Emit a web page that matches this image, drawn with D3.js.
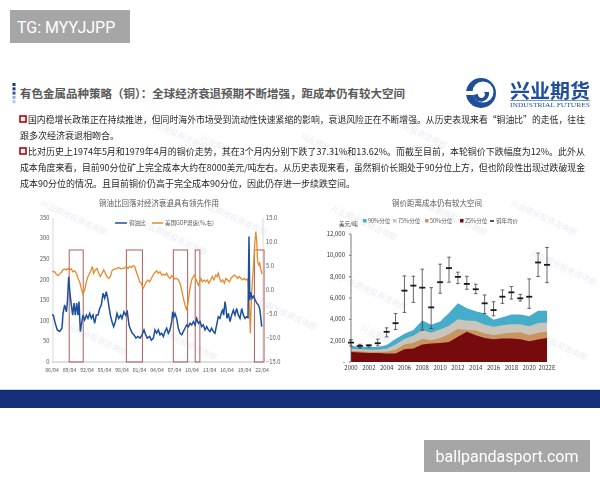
<!DOCTYPE html>
<html lang="zh">
<head>
<meta charset="UTF-8">
<title>有色金属品种策略（铜）</title>
<script src="https://d3js.org/d3.v7.min.js"></script>
<style>
  body { margin: 0; background: #fff; }
  svg { display: block; font-family: "Noto Sans CJK SC", "Noto Sans", sans-serif; }
</style>
</head>
<body>
<svg width="600" height="480"></svg>
<script>
// ---- left chart: copper/oil ratio vs US GDP growth ----
const copperOilRatio = [
  [1986.3,116],[1986.5,112],[1986.8,94],[1987.16,78],[1987.56,74],[1987.96,82],[1988.14,118],[1988.42,139],
  [1988.71,122],[1988.88,143],[1989.11,207],[1989.34,165],[1989.56,139],[1989.79,114],[1990.02,143],
  [1990.25,114],[1990.48,143],[1990.71,114],[1990.88,147],[1991.11,74],[1991.28,90],[1991.56,114],
  [1991.85,102],[1992.14,114],[1992.42,106],[1992.71,118],[1992.99,106],[1993.28,114],[1993.56,94],
  [1993.85,114],[1994.14,114],[1994.42,130],[1994.71,139],[1994.99,167],[1995.28,155],[1995.56,171],
  [1995.85,151],[1996.02,134],[1996.25,114],[1996.54,98],[1996.82,86],[1997.11,98],[1997.39,118],
  [1997.68,106],[1998.02,114],[1998.25,106],[1998.59,122],[1998.88,114],[1999.16,122],[1999.45,90],
  [1999.74,78],[2000.02,70],[2000.31,66],[2000.65,58],[2000.99,62],[2001.34,58],[2001.68,66],
  [2002.02,78],[2002.31,66],[2002.59,58],[2002.99,62],[2003.28,53],[2003.62,58],[2003.91,78],
  [2004.19,70],[2004.48,78],[2004.77,66],[2005.05,70],[2005.34,62],[2005.62,74],[2005.91,82],
  [2006.19,70],[2006.48,78],[2006.77,98],[2006.94,122],[2007.16,110],[2007.34,118],[2007.62,106],
  [2007.91,82],[2008.19,70],[2008.48,66],[2008.76,74],[2009.05,82],[2009.34,90],[2009.62,86],
  [2009.91,94],[2010.19,90],[2010.48,98],[2010.77,90],[2011.05,106],[2011.34,94],[2011.62,98],
  [2011.91,86],[2012.19,90],[2012.48,78],[2012.77,86],[2013.05,78],[2013.34,74],[2013.62,82],
  [2013.91,74],[2014.19,70],[2014.48,90],[2014.76,110],[2015.05,106],[2015.34,122],[2015.51,126],
  [2015.68,114],[2015.91,147],[2016.08,130],[2016.25,106],[2016.48,118],[2016.77,98],[2017.05,114],
  [2017.34,126],[2017.62,114],[2017.91,130],[2018.19,114],[2018.48,106],[2018.77,130],[2019.05,114],
  [2019.34,106],[2019.62,110],[2019.85,108],[2020.02,305],[2020.15,150],[2020.3,170],[2020.55,155],
  [2020.8,160],[2021.1,150],[2021.35,143],[2021.6,139],[2021.85,130],[2022.05,106],[2022.2,86]
];
const usGdpGrowth = [
  [1986.3,3.9],[1986.71,3.8],[1986.99,3.3],[1987.28,3.0],[1987.56,3.3],[1987.85,3.7],[1988.14,4.2],
  [1988.42,4.4],[1988.71,4.2],[1988.99,4.5],[1989.28,4.2],[1989.56,4.4],[1989.85,3.8],[1990.14,4.0],
  [1990.42,3.5],[1990.71,2.4],[1990.99,1.7],[1991.28,0.3],[1991.56,-0.9],[1991.85,0.0],[1992.14,1.7],
  [1992.42,2.8],[1992.71,3.5],[1992.99,4.2],[1993.16,4.9],[1993.39,3.5],[1993.68,4.2],[1993.96,4.5],
  [1994.25,3.5],[1994.54,2.8],[1994.82,3.5],[1995.11,4.2],[1995.39,3.5],[1995.68,2.8],[1995.96,2.4],
  [1996.25,2.8],[1996.54,4.0],[1996.82,4.3],[1997.11,4.4],[1997.39,4.5],[1997.68,4.7],[1998.02,4.4],
  [1998.25,4.5],[1998.59,4.5],[1998.99,4.9],[1999.28,4.5],[1999.56,4.9],[1999.85,4.7],[2000.14,5.1],
  [2000.42,4.9],[2000.71,3.8],[2000.99,2.8],[2001.28,1.7],[2001.56,1.4],[2001.85,0.3],[2002.14,1.0],
  [2002.42,1.7],[2002.71,2.1],[2002.99,1.7],[2003.28,2.4],[2003.73,3.4],[2004.19,4.0],[2004.48,3.5],
  [2004.77,3.8],[2005.05,3.1],[2005.34,3.3],[2005.62,3.1],[2005.91,3.5],[2006.19,2.8],[2006.48,2.4],
  [2006.77,3.0],[2007.05,2.6],[2007.34,2.3],[2007.62,2.4],[2007.91,2.1],[2008.19,1.4],[2008.48,0.0],
  [2008.76,-1.7],[2009.05,-3.1],[2009.28,-4.0],[2009.51,-3.1],[2009.74,-1.0],[2009.96,0.7],
  [2010.19,2.1],[2010.48,2.8],[2010.65,3.1],[2010.88,2.4],[2011.11,1.7],[2011.34,1.0],[2011.56,1.7],
  [2011.79,2.4],[2012.02,1.7],[2012.31,2.1],[2012.59,1.7],[2012.88,2.1],[2013.16,1.4],[2013.45,2.1],
  [2013.73,2.8],[2014.02,2.1],[2014.31,3.1],[2014.54,2.8],[2014.76,3.5],[2014.99,2.4],[2015.22,1.7],
  [2015.51,2.1],[2015.79,1.4],[2016.08,2.4],[2016.36,2.1],[2016.65,1.7],[2016.94,2.4],[2017.22,2.8],
  [2017.51,3.1],[2017.79,2.8],[2018.08,2.4],[2018.36,2.8],[2018.65,2.4],[2018.94,2.1],[2019.22,2.4],
  [2019.51,2.1],[2019.8,2.3],[2020.05,-2.0],[2020.25,-9.0],[2020.4,-3.0],[2020.55,1.0],[2020.8,5.0],
  [2021.0,9.5],[2021.2,12.2],[2021.35,10.0],[2021.5,6.0],[2021.7,5.2],[2021.85,5.6],[2022.0,4.5],
  [2022.15,3.8],[2022.25,3.3]
];
const recessionBoxes = [[1989.2,1991.6],[1999.0,2001.75],[2007.05,2009.5],[2010.8,2011.6],[2020.95,2022.6]];
const ratioTicks = [0,50,100,150,200,250,300,350];
const gdpTicks = [-15,-10,-5,0,5,10,15];
const monthTicks = [1986.25,1989.25,1992.25,1995.25,1998.25,2001.25,2004.25,2007.25,2010.25,2013.25,2016.25,2019.25,2022.25];
const monthLabels = ["86/04","89/04","92/04","95/04","98/04","01/04","04/04","07/04","10/04","13/04","16/04","19/04","22/04"];

// ---- right chart: copper price vs cost percentiles ----
const costYears = [2000,2001,2002,2003,2004,2005,2006,2007,2008,2009,2010,2011,2012,2013,2014,2015,2016,2017,2018,2019,2020,2021,2022];
const yearLabels = ["2000","","2002","","2004","","2006","","2008","","2010","","2012","","2014","","2016","","2018","","2020","","2022E"];
const cost90 = [1500,1450,1400,1400,1600,2150,2650,3000,3900,3500,3800,4600,5500,5050,4750,4550,3950,4200,4450,4450,4300,4800,4800];
const cost75 = [1250,1200,1150,1150,1250,1650,2150,2450,3000,2750,3050,3400,4000,3900,3850,3500,3300,3450,3550,3550,3350,3650,3700];
const cost50 = [1050,1000,950,950,950,1150,1650,1800,2150,2050,2250,2600,3100,3000,2950,2700,2500,2650,2750,2800,2500,2750,2850];
const cost25 = [940,880,850,850,790,790,1190,1260,1630,1730,1790,1880,2360,2830,2510,2260,2140,2200,2200,2140,1950,2100,2260];
const priceAvg  = [1820,1510,1560,1760,2830,3640,6690,7160,6970,5120,7480,8800,7980,7320,6820,5500,4870,6120,6530,5970,6120,9330,9110];
const priceHigh = [2100,1660,1600,2140,3200,4550,8070,8040,8700,6970,9170,9830,8420,8040,7290,6280,5650,6750,7070,6340,7790,10210,10740];
const priceLow  = [1500,1320,1410,1510,2360,3050,4650,5590,2980,3140,6440,7480,7350,6820,6410,4550,4330,5500,5900,5720,5030,8010,7440];
const costTicks = [0,2000,4000,6000,8000,10000,12000];

const svg = d3.select("svg");
const grey = "#595959";

// watermarks
const wm = svg.append("g").attr("fill", "#c9d2e3").attr("opacity", 0.45).attr("font-size", 8);
[[40,205],[140,225],[200,205],[60,325],[150,330],[250,300],[330,210],[420,205],[510,205],[530,255],
 [340,280],[360,330],[520,330],[140,120],[380,118],[300,138],[200,140]].forEach(([x, y]) => {
  wm.append("text").attr("transform", `translate(${x},${y}) rotate(25)`).text("兴业期货投资咨询部");
});

// top-left tag
svg.append("rect").attr("x", 10).attr("y", 10).attr("width", 120).attr("height", 33).attr("fill", "#a6a6a6");
svg.append("text").attr("x", 17).attr("y", 33).attr("fill", "#fff").attr("font-size", 16)
  .attr("font-family", "Roboto, sans-serif").text("TG: MYYJJPP");

// heading
["#1b3a7a","#1b3a7a","#2f5597","#8ea9db","#b4c7e7"].forEach((c, i) => {
  svg.append("rect").attr("x", 12.5).attr("y", 83 + i * 4.3).attr("width", 3).attr("height", 3).attr("fill", c);
});
svg.append("text").attr("x", 20).attr("y", 98).attr("font-size", 11.5).attr("font-weight", "bold")
  .attr("fill", grey).attr("textLength", 385).attr("lengthAdjust", "spacingAndGlyphs")
  .text("有色金属品种策略（铜）：全球经济衰退预期不断增强，距成本仍有较大空间");

// logo
const logo = svg.append("g").attr("transform", "translate(481,93)");
logo.append("circle").attr("r", 15).attr("fill", "#1f4e9a");
logo.append("circle").attr("cx", 2).attr("cy", -1).attr("r", 10.5).attr("fill", "#fff");
logo.append("path").attr("d", "M-8,2 A8,8 0 1,0 8,-1 L3,-1 A3.5,3.5 0 1,1 -3,1 Z").attr("fill", "#1f4e9a");
logo.append("rect").attr("x", -16).attr("y", -2).attr("width", 9).attr("height", 4).attr("fill", "#fff");
svg.append("text").attr("x", 510).attr("y", 98).attr("font-size", 19).attr("font-weight", "bold")
  .attr("fill", "#1f4e9a").attr("textLength", 80).attr("lengthAdjust", "spacingAndGlyphs").text("兴业期货");
svg.append("line").attr("x1", 510).attr("x2", 590).attr("y1", 100.5).attr("y2", 100.5)
  .attr("stroke", "#1f4e9a").attr("stroke-width", 0.6);
svg.append("text").attr("x", 510).attr("y", 107).attr("font-size", 5.5).attr("fill", "#1f4e9a")
  .attr("font-family", "Liberation Serif, serif").attr("textLength", 80).attr("lengthAdjust", "spacingAndGlyphs")
  .text("INDUSTRIAL FUTURES");

// body text
const bodyLines = [
  { y: 123, x: 28, bullet: true, full: true, t: "国内稳增长政策正在持续推进，但同时海外市场受到流动性快速紧缩的影响，衰退风险正在不断增强。从历史表现来看“铜油比”的走低，往往" },
  { y: 139, x: 20, t: "跟多次经济衰退相吻合。" },
  { y: 155, x: 28, bullet: true, full: true, t: "比对历史上1974年5月和1979年4月的铜价走势，其在3个月内分别下跌了37.31%和13.62%。而截至目前，本轮铜价下跌幅度为12%。此外从" },
  { y: 171, x: 20, full: true, t: "成本角度来看，目前90分位矿上完全成本大约在8000美元/吨左右。从历史表现来看，虽然铜价长期处于90分位上方，但也阶段性出现过跌破现金" },
  { y: 187, x: 20, t: "成本90分位的情况。且目前铜价仍高于完全成本90分位，因此仍存进一步续跌空间。" }
];
bodyLines.forEach(l => {
  if (l.bullet) {
    svg.append("rect").attr("x", 20).attr("y", l.y - 7).attr("width", 6).attr("height", 6)
      .attr("fill", "#fff").attr("stroke", "#c00000").attr("stroke-width", 1.6);
  }
  const t = svg.append("text").attr("x", l.x).attr("y", l.y).attr("font-size", 9).attr("fill", "#262626").text(l.t);
  if (l.full) t.attr("textLength", 585 - l.x).attr("lengthAdjust", "spacingAndGlyphs");
});

// ===== left chart =====
const xL = d3.scaleLinear().domain([1986.25, 2022.25]).range([52, 262]);
const yL = d3.scaleLinear().domain([0, 350]).range([362, 218]);
const yR = d3.scaleLinear().domain([-15, 15]).range([362, 218]);
const gl = svg.append("g");

gl.append("text").attr("x", 159).attr("y", 206).attr("text-anchor", "middle").attr("font-size", 7.5)
  .attr("fill", grey).text("铜油比回落对经济衰退具有领先作用");

gl.append("line").attr("x1", 53).attr("x2", 53).attr("y1", 218).attr("y2", 362).attr("stroke", "#d9d9d9");
gl.append("line").attr("x1", 263).attr("x2", 263).attr("y1", 218).attr("y2", 362).attr("stroke", "#d9d9d9");
gl.append("line").attr("x1", 52).attr("x2", 263).attr("y1", 362).attr("y2", 362).attr("stroke", "#bfbfbf");

gl.selectAll(".tl").data(ratioTicks).join("text")
  .attr("x", 49.5).attr("y", d => yL(d) + 1.8).attr("text-anchor", "end")
  .attr("font-size", 5.8).attr("fill", grey).text(d => d);
gl.selectAll(".tr").data(gdpTicks).join("text")
  .attr("x", 266).attr("y", d => yR(d) + 1.8)
  .attr("font-size", 5.8).attr("fill", grey).text(d => d3.format(".1f")(d));
gl.selectAll(".tx").data(monthTicks).join("text")
  .attr("x", d => xL(d)).attr("y", 371.5).attr("text-anchor", "middle")
  .attr("font-size", 5.2).attr("fill", grey).text((d, i) => monthLabels[i]);

gl.selectAll(".box").data(recessionBoxes).join("rect")
  .attr("x", d => xL(d[0])).attr("width", d => xL(d[1]) - xL(d[0]))
  .attr("y", 250).attr("height", 112)
  .attr("fill", "none").attr("stroke", "#ad5d5f").attr("stroke-width", 1);

gl.append("path").datum(usGdpGrowth)
  .attr("d", d3.line().x(d => xL(d[0])).y(d => yR(d[1])))
  .attr("fill", "none").attr("stroke", "#e8892a").attr("stroke-width", 1.3);
gl.append("path").datum(copperOilRatio)
  .attr("d", d3.line().x(d => xL(d[0])).y(d => yL(d[1])))
  .attr("fill", "none").attr("stroke", "#1c4f9c").attr("stroke-width", 1.5);

// legend
gl.append("line").attr("x1", 115).attr("x2", 127).attr("y1", 223).attr("y2", 223).attr("stroke", "#1c4f9c").attr("stroke-width", 1.5);
gl.append("text").attr("x", 129).attr("y", 225.2).attr("font-size", 5.5).attr("fill", grey).text("铜油比");
gl.append("line").attr("x1", 152).attr("x2", 163).attr("y1", 223).attr("y2", 223).attr("stroke", "#e8892a").attr("stroke-width", 1.5);
gl.append("text").attr("x", 165).attr("y", 225.2).attr("font-size", 5.5).attr("fill", grey).text("美国GDP增速(%,右)");

// ===== right chart =====
const xR = d3.scaleLinear().domain([2000, 2022]).range([351, 547]);
const yC = d3.scaleLinear().domain([0, 12000]).range([362, 234]);
const gr = svg.append("g");

gr.append("text").attr("x", 437).attr("y", 206).attr("text-anchor", "middle").attr("font-size", 7.5)
  .attr("fill", grey).text("铜价距离成本仍有较大空间");

const layers = [
  { vals: cost90, color: "#45acc9", name: "90%分位" },
  { vals: cost75, color: "#c9c5bb", name: "75%分位" },
  { vals: cost50, color: "#c99461", name: "50%分位" },
  { vals: cost25, color: "#760a0c", name: "25%分位" }
];
const area = d3.area().x((d, i) => xR(costYears[i])).y0(yC(0)).y1(d => yC(d));
layers.forEach(l => gr.append("path").datum(l.vals).attr("d", area).attr("fill", l.color));

gr.append("line").attr("x1", 351).attr("x2", 351).attr("y1", 234).attr("y2", 362).attr("stroke", "#595959").attr("stroke-width", 0.8);
gr.selectAll(".yt").data(costTicks).join("line")
  .attr("x1", 349).attr("x2", 351).attr("y1", d => yC(d)).attr("y2", d => yC(d))
  .attr("stroke", "#595959").attr("stroke-width", 0.8);
gr.selectAll(".yl").data(costTicks).join("text")
  .attr("x", 345).attr("y", d => yC(d) + 2).attr("text-anchor", "end")
  .attr("font-size", 6).attr("fill", "#333").text(d => d === 0 ? "-" : d3.format(",")(d));
gr.append("text").attr("x", 339).attr("y", 226).attr("font-size", 5.5).attr("fill", "#333").text("美元/吨");
gr.selectAll(".xl").data(costYears).join("text")
  .attr("x", d => xR(d)).attr("y", 370).attr("text-anchor", "middle")
  .attr("font-size", 6).attr("fill", "#333").text((d, i) => yearLabels[i]);

// error bars with yearly average
const eb = gr.selectAll(".eb").data(costYears).join("g");
eb.append("line").attr("x1", d => xR(d)).attr("x2", d => xR(d))
  .attr("y1", (d, i) => yC(priceHigh[i])).attr("y2", (d, i) => yC(priceLow[i]))
  .attr("stroke", "#404040").attr("stroke-width", 0.8);
[priceHigh, priceLow].forEach(arr => {
  eb.append("line").attr("x1", d => xR(d) - 1.8).attr("x2", d => xR(d) + 1.8)
    .attr("y1", (d, i) => yC(arr[i])).attr("y2", (d, i) => yC(arr[i]))
    .attr("stroke", "#404040").attr("stroke-width", 0.8);
});
eb.append("line").attr("x1", d => xR(d) - 3).attr("x2", d => xR(d) + 3)
  .attr("y1", (d, i) => yC(priceAvg[i])).attr("y2", (d, i) => yC(priceAvg[i]))
  .attr("stroke", "#1a1a1a").attr("stroke-width", 1.8);

// legend
const legX = [363, 393, 425, 460];
layers.forEach((l, i) => {
  gr.append("rect").attr("x", legX[i]).attr("y", 219).attr("width", 3.5).attr("height", 3.5).attr("fill", l.color);
  gr.append("text").attr("x", legX[i] + 5).attr("y", 223).attr("font-size", 5.5).attr("fill", grey).text(l.name);
});
gr.append("line").attr("x1", 490).attr("x2", 494).attr("y1", 221).attr("y2", 221).attr("stroke", "#1a1a1a").attr("stroke-width", 1.5);
gr.append("text").attr("x", 496).attr("y", 223).attr("font-size", 5.5).attr("fill", grey).text("铜年均价");

// footer band
svg.append("line").attr("x1", 0).attr("x2", 600).attr("y1", 389.5).attr("y2", 389.5).attr("stroke", "#c5d3ea");
svg.append("rect").attr("x", 0).attr("y", 390).attr("width", 600).attr("height", 18).attr("fill", "#152f78");

// bottom-right tag
svg.append("rect").attr("x", 424).attr("y", 440).attr("width", 166).attr("height", 32).attr("fill", "#a6a6a6");
svg.append("text").attr("x", 507).attr("y", 462).attr("text-anchor", "middle").attr("fill", "#fff")
  .attr("font-size", 16).attr("font-family", "Roboto, sans-serif").text("ballpandasport.com");
</script>
</body>
</html>
